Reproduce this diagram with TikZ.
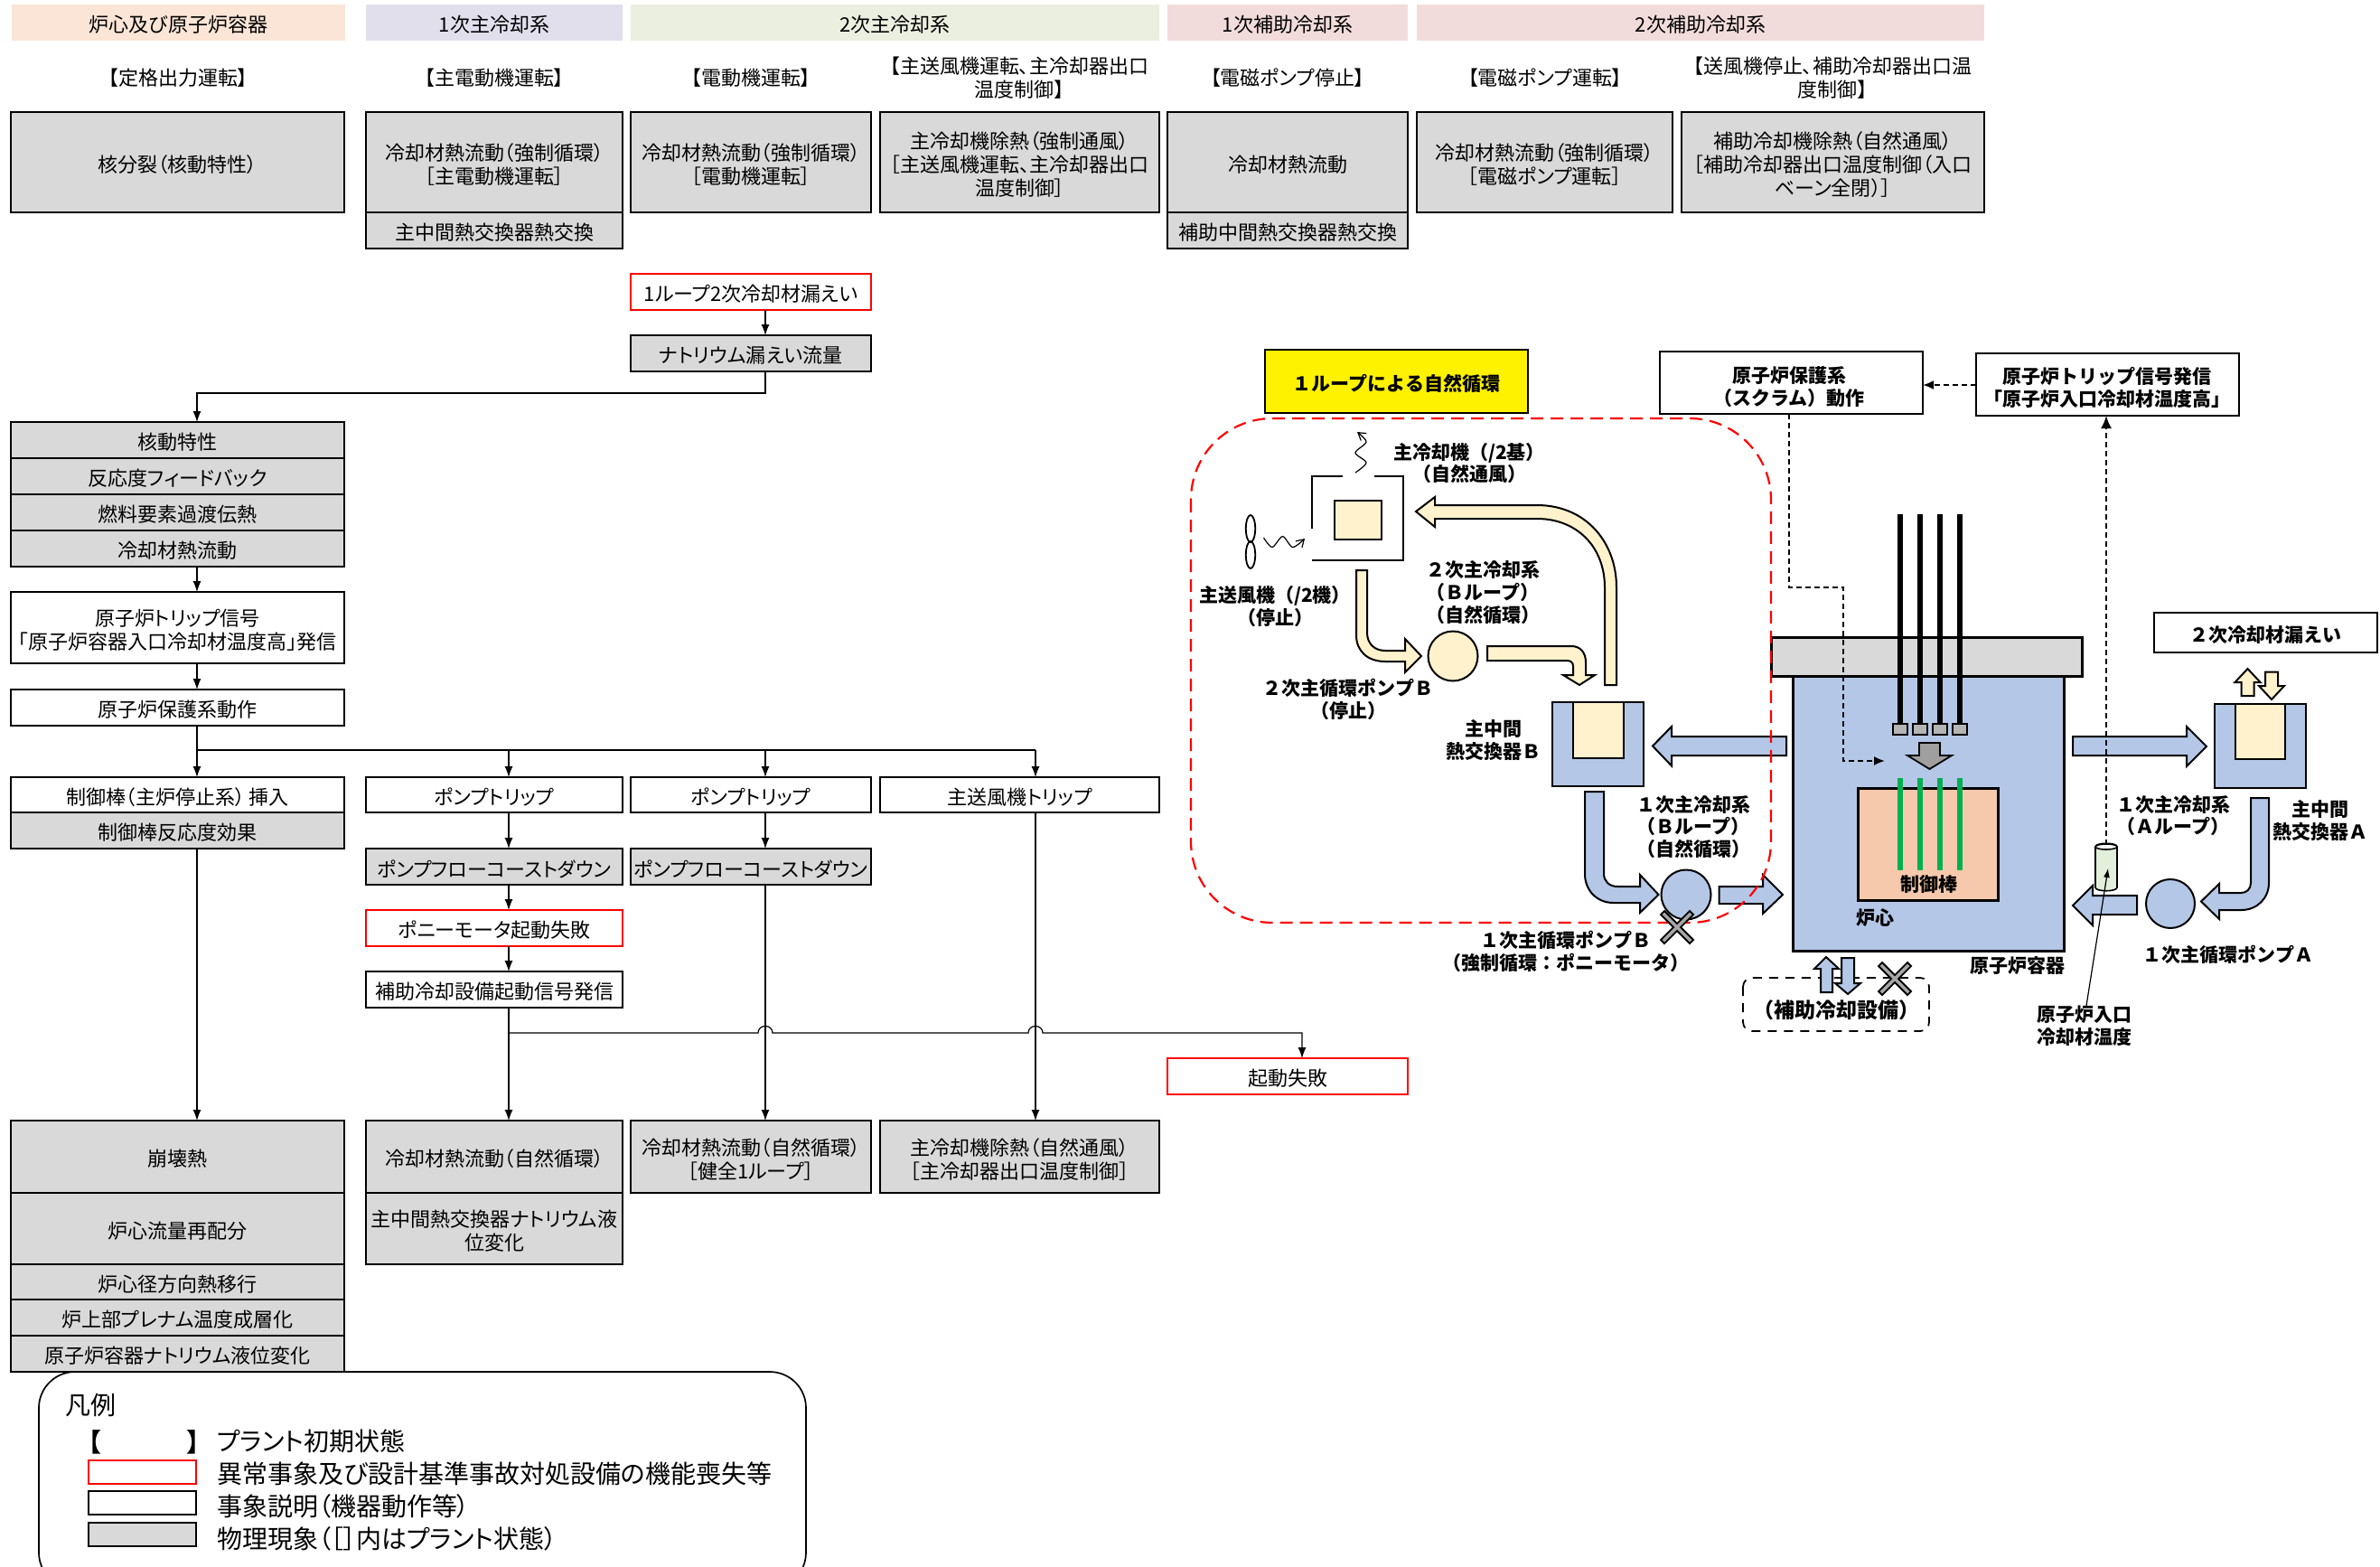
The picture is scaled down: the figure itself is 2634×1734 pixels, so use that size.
\documentclass[tikz,border=0pt]{standalone}
\usepackage{fontspec}
\setmainfont{Noto Sans CJK JP}
\newfontfamily\paltfont{Noto Sans CJK JP}[RawFeature=+palt]
\usetikzlibrary{arrows.meta}
\definecolor{hora}{HTML}{FBE5D6}
\definecolor{hpur}{HTML}{E1DFEC}
\definecolor{hgrn}{HTML}{EBEFDF}
\definecolor{hred}{HTML}{F2DCDB}
\definecolor{gbox}{HTML}{D9D9D9}
\definecolor{cream}{HTML}{FFF2CC}
\definecolor{blueb}{HTML}{B4C7E7}
\definecolor{corec}{HTML}{F6C9AC}
\definecolor{rodg}{HTML}{00B050}
\definecolor{sens}{HTML}{E2EFDA}
\definecolor{crossg}{HTML}{A6A6A6}
\tikzset{
  base/.style={inner sep=0pt,outer sep=0pt,align=center,font={\paltfont\fontsize{11}{13}\selectfont}},
  hdr/.style={base},
  gray/.style={base,draw=black,line width=0.85pt,fill=gbox},
  white/.style={base,draw=black,line width=0.85pt,fill=white},
  redb/.style={base,draw=red,line width=1pt,fill=white},
  boldb/.style={base,draw=black,line width=1pt,fill=white,font={\fontsize{10.5}{12.3}\bfseries\selectfont}},
  conn/.style={line width=0.6pt,draw=black,-{Latex[length=6pt,width=4.5pt]}},
  plain/.style={line width=0.6pt,draw=black},
  lbl/.style={inner sep=0pt,outer sep=0pt,align=center,font={\fontsize{10.5}{12.3}\bfseries\selectfont}},
  blk/.style={draw=black,line width=1pt,line join=miter},
  dsh/.style={draw=black,line width=1pt,dash pattern=on 3pt off 2pt},
  leg/.style={inner sep=0pt,outer sep=0pt,anchor=west,font={\paltfont\fontsize{14}{16}\selectfont}},
}
\newcommand{\bx}[7]{\node[#2,anchor=north west,minimum width={(#5-#3)*0.5pt},minimum height={(#6-#4)*0.5pt}] (#1) at (#3,#4) {};
  \node[#2,draw=none,fill=none,yshift=-1.3pt] (#1t) at (#1.center) {#7};}
\newcommand{\crossx}[2]{\draw[blk,line width=0.9pt,fill=crossg,shift={(#1,#2)}] (-18,-14)--(-14,-18)--(0,-4)--(14,-18)--(18,-14)--(4,0)--(18,14)--(14,18)--(0,4)--(-14,18)--(-18,14)--(-4,0)--cycle;}
\begin{document}
\begin{tikzpicture}[x=0.5pt,y=-0.5pt]
\useasboundingbox (0,0) rectangle (2634,1734);
\fill[white] (-20,-20) rectangle (2654,1754);
% column x references
\coordinate (c0) at (218,0);
\coordinate (c1) at (563,0);
\coordinate (c2) at (847,0);
\coordinate (c3) at (1146,0);
\coordinate (c4) at (1441,0);
% headers
\bx{h1}{hdr,fill=hora}{13}{5}{382}{45}{炉心及び原子炉容器}
\bx{h2}{hdr,fill=hpur}{405}{5}{689}{45}{1次主冷却系}
\bx{h3}{hdr,fill=hgrn}{698}{5}{1283}{45}{2次主冷却系}
\bx{h4}{hdr,fill=hred}{1292}{5}{1558}{45}{1次補助冷却系}
\bx{h5}{hdr,fill=hred}{1568}{5}{2196}{45}{2次補助冷却系}
% initial states
\node[base] (s1) at (197,86) {【定格出力運転】};
\node[base] (s2) at (547,86) {【主電動機運転】};
\node[base] (s3) at (831,86) {【電動機運転】};
\node[base] (s4) at (1128,86) {【主送風機運転、主冷却器出口\\温度制御】};
\node[base] (s5) at (1425,86) {【電磁ポンプ停止】};
\node[base] (s6) at (1710,86) {【電磁ポンプ運転】};
\node[base] (s7) at (2028,86) {【送風機停止、補助冷却器出口温\\度制御】};
% initial boxes
\bx{a1}{gray}{12}{124}{381}{235}{核分裂（核動特性）}
\bx{a2}{gray}{405}{124}{689}{235}{冷却材熱流動（強制循環）\\［主電動機運転］}
\bx{a3}{gray}{698}{124}{964}{235}{冷却材熱流動（強制循環）\\［電動機運転］}
\bx{a4}{gray}{974}{124}{1283}{235}{主冷却機除熱（強制通風）\\［主送風機運転、主冷却器出口\\温度制御］}
\bx{a5}{gray}{1292}{124}{1558}{235}{冷却材熱流動}
\bx{a6}{gray}{1568}{124}{1851}{235}{冷却材熱流動（強制循環）\\［電磁ポンプ運転］}
\bx{a7}{gray}{1861}{124}{2196}{235}{補助冷却機除熱（自然通風）\\［補助冷却器出口温度制御（入口\\ベーン全閉）］}
\bx{a8}{gray}{405}{235}{689}{275}{主中間熱交換器熱交換}
\bx{a9}{gray}{1292}{235}{1558}{275}{補助中間熱交換器熱交換}
% flow
\bx{f1}{redb}{698}{303}{964}{343}{1ループ2次冷却材漏えい}
\bx{f2}{gray}{698}{371}{964}{411}{ナトリウム漏えい流量}
\bx{k1}{gray}{12}{467}{381}{507}{核動特性}
\bx{k2}{gray}{12}{507}{381}{547}{反応度フィードバック}
\bx{k3}{gray}{12}{547}{381}{587}{燃料要素過渡伝熱}
\bx{k4}{gray}{12}{587}{381}{627}{冷却材熱流動}
\bx{t1}{white}{12}{655}{381}{734}{原子炉トリップ信号\\「原子炉容器入口冷却材温度高」発信}
\bx{t2}{white}{12}{763}{381}{803}{原子炉保護系動作}
\bx{r1}{white}{12}{860}{381}{899}{制御棒（主炉停止系） 挿入}
\bx{r2}{gray}{12}{899}{381}{939}{制御棒反応度効果}
\bx{p1}{white}{405}{860}{689}{899}{ポンプトリップ}
\bx{p2}{white}{698}{860}{964}{899}{ポンプトリップ}
\bx{p3}{white}{974}{860}{1283}{899}{主送風機トリップ}
\bx{q1}{gray}{405}{939}{689}{979}{ポンプフローコーストダウン}
\bx{q2}{gray}{698}{939}{964}{979}{ポンプフローコーストダウン}
\bx{q3}{redb}{405}{1007}{689}{1047}{ポニーモータ起動失敗}
\bx{q4}{white}{405}{1075}{689}{1115}{補助冷却設備起動信号発信}
\bx{q5}{redb}{1292}{1171}{1558}{1211}{起動失敗}
\bx{b1}{gray}{12}{1240}{381}{1320}{崩壊熱}
\bx{b2}{gray}{12}{1320}{381}{1399}{炉心流量再配分}
\bx{b3}{gray}{12}{1399}{381}{1438}{炉心径方向熱移行}
\bx{b4}{gray}{12}{1438}{381}{1478}{炉上部プレナム温度成層化}
\bx{b5}{gray}{12}{1478}{381}{1518}{原子炉容器ナトリウム液位変化}
\bx{d1}{gray}{405}{1240}{689}{1320}{冷却材熱流動（自然循環）}
\bx{d2}{gray}{405}{1320}{689}{1399}{主中間熱交換器ナトリウム液\\位変化}
\bx{d3}{gray}{698}{1240}{964}{1320}{冷却材熱流動（自然循環）\\［健全1ループ］}
\bx{d4}{gray}{974}{1240}{1283}{1320}{主冷却機除熱（自然通風）\\［主冷却器出口温度制御］}
% connectors
\draw[conn] (f1.south -| c2) -- (f2.north -| c2);
\draw[conn] (f2.south -| c2) |- (218,435) -- (k1.north -| c0);
\draw[conn] (k4.south -| c0) -- (t1.north -| c0);
\draw[conn] (t1.south -| c0) -- (t2.north -| c0);
\draw[conn] (t2.south -| c0) -- (r1.north -| c0);
\coordinate (br) at (218,830);
\draw[plain] (br) -- (br -| c3);
\draw[conn] (br -| c1) -- (p1.north -| c1);
\draw[conn] (br -| c2) -- (p2.north -| c2);
\draw[conn] (br -| c3) -- (p3.north -| c3);
\draw[conn] (p1.south -| c1) -- (q1.north -| c1);
\draw[conn] (p2.south -| c2) -- (q2.north -| c2);
\draw[conn] (q1.south -| c1) -- (q3.north -| c1);
\draw[conn] (q3.south -| c1) -- (q4.north -| c1);
\draw[conn] (q4.south -| c1) -- (d1.north -| c1);
\draw[conn] (r2.south -| c0) -- (b1.north -| c0);
\draw[conn] (q2.south -| c2) -- (d3.north -| c2);
\draw[conn] (p3.south -| c3) -- (d4.north -| c3);
\coordinate (jy) at (563,1143);
\draw[conn] (jy) -- (839,1143) .. controls (839,1133) and (855,1133) .. (855,1143) -- (1138,1143) .. controls (1138,1133) and (1154,1133) .. (1154,1143) -- (jy -| c4) -- (q5.north -| c4);
% legend
\begin{scope}
\clip (0,0) rectangle (2634,1734);
\draw[black,line width=0.85pt,rounded corners=20pt,fill=white] (43,1518) rectangle (892,1758);
\end{scope}
\node[leg] (l0) at (72,1555) {凡例};
\node[leg,anchor=center,font={\fontsize{14}{16}\bfseries\selectfont}] (l1) at (159,1596) {【\hspace{47pt}】};
\node[leg] (l2) at (240,1595) {プラント初期状態};
\bx{lr}{redb}{98}{1616}{217}{1642}{}
\node[leg] (l3) at (240,1631) {異常事象及び設計基準事故対処設備の機能喪失等};
\bx{lw}{white}{98}{1650}{217}{1676}{}
\node[leg] (l4) at (240,1667) {事象説明（機器動作等）};
\bx{lg}{gray}{98}{1685}{217}{1711}{}
\node[leg] (l5) at (240,1703) {物理現象（［］内はプラント状態）};
% ---------- right diagram
\bx{yl}{boldb,fill=yellow}{1400}{387}{1691}{457}{１ループによる自然循環}
\bx{sc}{boldb}{1837}{389}{2128}{458}{}
\node[lbl] (sct) at (1980,428) {原子炉保護系\\（スクラム）動作};
\bx{tr}{boldb}{2187}{391}{2478}{460}{}
\node[lbl] (trt) at (2332,429) {原子炉トリップ信号発信\\「原子炉入口冷却材温度高」};
\bx{lk}{boldb,line width=0.8pt}{2384}{678}{2631}{722}{２次冷却材漏えい}
% cooler
\draw[black,line width=1pt] (1452,585) -- (1452,527) -- (1486,527);
\draw[black,line width=1pt] (1521,527) -- (1553,527) -- (1553,620) -- (1452,620);
\draw[blk,fill=cream] (1477,554) rectangle (1529,597);
\draw[plain,-{Straight Barb[length=4pt,width=5pt]}] plot[smooth] coordinates {(1500,523) (1512,512) (1500,501) (1512,489) (1502,478)};
\draw[plain,-{Straight Barb[length=4pt,width=5pt]}] plot[smooth] coordinates {(1398.5,595) (1408,605.5) (1419.5,593.6) (1430.6,605.5) (1444,596)};
\draw[black,line width=0.9pt] (1384,585) ellipse[x radius=2.6pt,y radius=7.5pt];
\draw[black,line width=0.9pt] (1384,614) ellipse[x radius=2.6pt,y radius=7.5pt];
% secondary arrows
\draw[blk,fill=cream] (1567,566) -- (1588,550) -- (1588,559) -- (1701,559) .. controls (1755,559) and (1789,600) .. (1789,650) -- (1789,758) -- (1776,758) -- (1776,650) .. controls (1776,605) and (1745,574) .. (1701,574) -- (1588,574) -- (1588,583) -- cycle;
\draw[blk,fill=cream] (1501,631) -- (1513,631) -- (1513,700) .. controls (1513,712) and (1521,720) .. (1533,720) -- (1555,720) -- (1555,707) -- (1573,726) -- (1555,744) -- (1555,732) -- (1533,732) .. controls (1513,732) and (1501,720) .. (1501,703) -- cycle;
\draw[blk,fill=cream] (1608,726) circle[radius=13.75pt];
\draw[blk,fill=cream] (1646,715) -- (1739,715) .. controls (1749,715) and (1755,722) .. (1755,733) -- (1755,747) -- (1765,747) -- (1748,758) -- (1730,747) -- (1741,747) -- (1741,737) .. controls (1741,733) and (1738,731) .. (1734,731) -- (1646,731) -- cycle;
% IHX B
\draw[blk,fill=blueb] (1718,777) rectangle (1819,870);
\draw[blk,fill=cream] (1741,777) rectangle (1797,839);
\draw[blk,fill=blueb] (1829,825.5) -- (1850,804) -- (1850,815) -- (1977,815) -- (1977,836) -- (1850,836) -- (1850,847.5) -- cycle;
\draw[blk,fill=blueb] (1754,876) -- (1775,876) -- (1775,967) .. controls (1775,975) and (1781,981) .. (1790,981) -- (1815,981) -- (1815,968) -- (1835.5,990) -- (1815,1010) -- (1815,999) -- (1785.5,999) .. controls (1767,999) and (1754,985) .. (1754,967) -- cycle;
\draw[blk,fill=blueb] (1866,990) circle[radius=13.75pt];
\draw[blk,fill=blueb] (1902.5,981) -- (1951,981) -- (1951,968) -- (1973,990) -- (1951,1011) -- (1951,1000) -- (1902.5,1000) -- cycle;
% vessel
\draw[black,line width=1.5pt,fill=blueb] (1984,748) rectangle (2284,1052);
\draw[black,line width=1.5pt,fill=gbox] (1960,705) rectangle (2304,748);
\foreach \rx in {2103,2125,2147,2169}{
  \draw[black,line width=2.8pt] (\rx,569) -- (\rx,800);
  \draw[black,line width=1.4pt,fill=gbox!60!gray] (\rx-8,801) rectangle (\rx+8,813);
}
\draw[black,line width=0.9pt,fill=gray!75] (2124,822) -- (2147,822) -- (2147,836) -- (2160,836) -- (2135.5,851) -- (2111,836) -- (2124,836) -- cycle;
\draw[black,line width=1.5pt,fill=corec] (2056,872) rectangle (2211,996);
\foreach \rx in {2103,2125,2147,2169}{
  \draw[rodg,line width=3pt] (\rx,861) -- (\rx,963);
}
\node[lbl] (tcr) at (2135,979) {制御棒};
\node[lbl] (tcore) at (2075,1016) {炉心};
\node[lbl] (tpv) at (2233,1069) {原子炉容器};
% scram signal
\draw[dsh,-{Latex[length=6pt,width=5pt]}] (sc.south -| 1980,0) -- (1980,650) -- (2040,650) -- (2040,842) -- (2086,842);
\draw[dsh,-{Latex[length=6pt,width=5pt]}] (tr.west |- 0,426) -- (sc.east |- 0,426);
% A loop
\draw[blk,fill=blueb] (2294,815) -- (2420,815) -- (2420,804) -- (2442,826) -- (2420,848) -- (2420,836) -- (2294,836) -- cycle;
\draw[blk,fill=blueb] (2450.5,779) rectangle (2552,872);
\draw[blk,fill=cream] (2473.5,779) rectangle (2529,840);
\draw[blk,fill=cream] (2487.5,740) -- (2501.5,755) -- (2494.5,755) -- (2494.5,770) -- (2480.5,770) -- (2480.5,755) -- (2473.5,755) -- cycle;
\draw[blk,fill=cream] (2507,743.5) -- (2521,743.5) -- (2521,759) -- (2528,759) -- (2514,774) -- (2500,759) -- (2507,759) -- cycle;
\draw[blk,fill=blueb] (2491,883) -- (2511,883) -- (2511,977) .. controls (2511,994) and (2498,1007) .. (2480.5,1007) -- (2456,1007) -- (2456,1017) -- (2436,997.5) -- (2456,978) -- (2456,988) -- (2480.5,988) .. controls (2486,988) and (2491,984) .. (2491,977) -- cycle;
\draw[blk,fill=blueb] (2402,1000) circle[radius=13.5pt];
\draw[blk,fill=blueb] (2365,991) -- (2316,991) -- (2316,980) -- (2294,1002) -- (2316,1024) -- (2316,1012) -- (2365,1012) -- cycle;
% sensor
\draw[black,line width=0.8pt,fill=sens] (2319,937) -- (2319,982) .. controls (2319,987) and (2343,987) .. (2343,982) -- (2343,937) .. controls (2343,932) and (2319,932) .. (2319,937) -- cycle;
\draw[black,line width=0.8pt,fill=white] (2331,937) ellipse[x radius=6pt,y radius=1.5pt];
\draw[dsh,-{Latex[length=7pt,width=6pt]}] (2331,935) -- (tr.south -| 2331,0);
\node[lbl] (tsn) at (2307,1135) {原子炉入口\\冷却材温度};
\draw[plain,-{Latex[length=5pt,width=3.5pt]}] (tsn.north -| 2309,0) -- (2333,961);
% aux cooling
\draw[black,line width=0.9pt,dash pattern=on 5pt off 4pt,rounded corners=5pt,fill=white] (1929,1082) rectangle (2135,1141);
\node[lbl,font={\fontsize{11.5}{13}\bfseries\selectfont}] (taux) at (2032,1118) {（補助冷却設備）};
\draw[blk,fill=blueb] (2021,1059) -- (2035,1072) -- (2028,1072) -- (2028,1098) -- (2015,1098) -- (2015,1072) -- (2008,1072) -- cycle;
\draw[blk,fill=blueb] (2038,1060) -- (2052,1060) -- (2052,1088) -- (2059,1088) -- (2045,1100) -- (2031,1088) -- (2038,1088) -- cycle;
\crossx{2097}{1083}
% labels
\node[lbl] (t1a) at (1626,512.5) {主冷却機（/2基）\\（自然通風）};
\node[lbl] (t2a) at (1411,671) {主送風機（/2機）\\（停止）};
\node[lbl] (t3a) at (1641,655.5) {２次主冷却系\\（Ｂループ）\\（自然循環）};
\node[lbl] (t4a) at (1492,774) {２次主循環ポンプＢ\\（停止）};
\node[lbl] (t5a) at (1653,819) {主中間\\熱交換器Ｂ};
\node[lbl] (t6a) at (1874,915) {１次主冷却系\\（Ｂループ）\\（自然循環）};
\node[lbl] (t7a) at (1733,1053) {１次主循環ポンプＢ\\（強制循環：ポニーモータ）};
\node[lbl] (t8a) at (2405,902.5) {１次主冷却系\\（Ａループ）};
\node[lbl] (t9a) at (2568,908) {主中間\\熱交換器Ａ};
\node[lbl] (t10a) at (2466,1056) {１次主循環ポンプＡ};
% boundary of the loop
\draw[red,line width=1.1pt,dash pattern=on 7pt off 4pt,rounded corners=45pt] (1318,463) rectangle (1960,1021);
\crossx{1856}{1026}
\end{tikzpicture}
\end{document}
